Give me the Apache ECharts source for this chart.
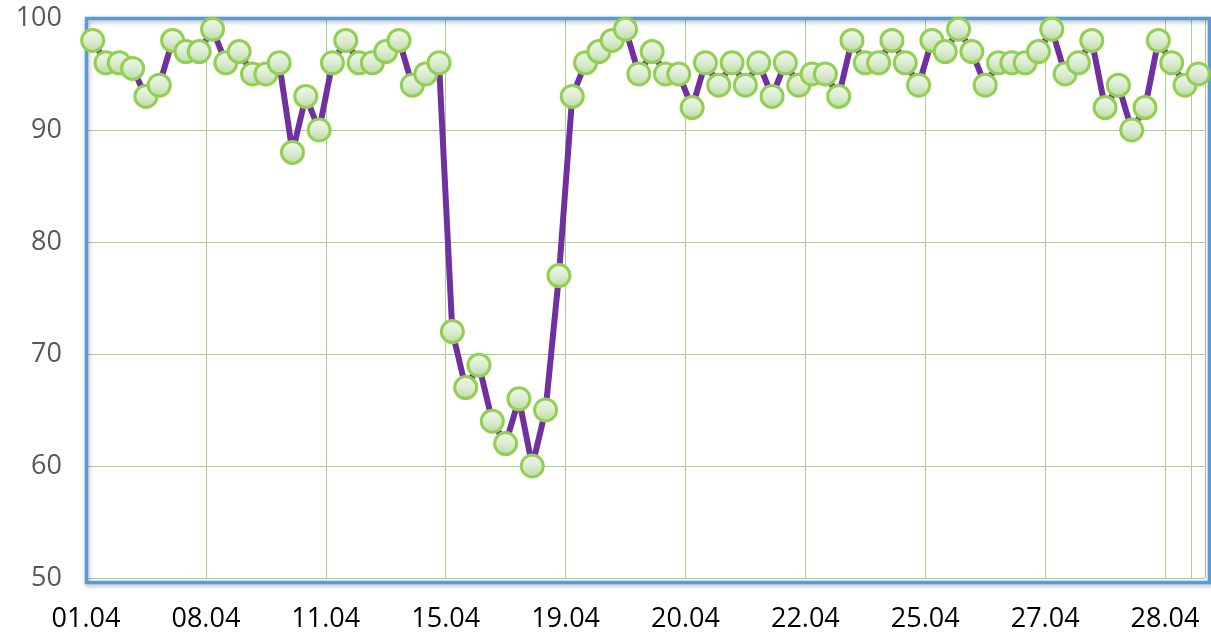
<!DOCTYPE html>
<html>
<head>
<meta charset="utf-8">
<script src="https://cdn.jsdelivr.net/npm/echarts@6/dist/echarts.min.js"></script>
<style>
  html, body { margin: 0; padding: 0; background: #fff; }
  #chart { width: 1211px; height: 635px; }
</style>
</head>
<body>
<div id="chart"></div>
<script>
// tick labels shown every 9 points, at the start of each block
let xLabels = ['01.04', '08.04', '11.04', '15.04', '19.04', '20.04', '22.04', '25.04', '27.04', '28.04'];

let values = [
    98, 96, 96, 95.5, 93, 94, 98, 97, 97, 99,
    96, 97, 95, 95, 96, 88, 93, 90, 96, 98,
    96, 96, 97, 98, 94, 95, 96, 72, 67, 69,
    64, 62, 66, 60, 65, 77, 93, 96, 97, 98,
    99, 95, 97, 95, 95, 92, 96, 94, 96, 94,
    96, 93, 96, 94, 95, 95, 93, 98, 96, 96,
    98, 96, 94, 98, 97, 99, 97, 94, 96, 96,
    96, 97, 99, 95, 96, 98, 92, 94, 90, 92,
    98, 96, 94, 95
];

let categories = values.map(function (v, i) { return i; });

let gridBox = { left: 86, top: 18, width: 1119, height: 560 };

let option = {
    backgroundColor: '#fff',
    animation: false,
    grid: {
        left: gridBox.left,
        top: gridBox.top,
        width: gridBox.width,
        height: gridBox.height
    },
    // plot frame, drawn over the grid lines but under the series
    graphic: [{
        type: 'rect',
        left: gridBox.left - 2,
        top: gridBox.top - 2,
        z: 1,
        shape: { width: gridBox.width + 4, height: gridBox.height + 4 },
        style: {
            fill: null,
            stroke: '#5b9bd5',
            lineWidth: 3.5,
            shadowColor: 'rgba(0,0,0,0.3)',
            shadowBlur: 4,
            shadowOffsetY: 2,
            shadowOffsetX: 1
        }
    }],
    xAxis: {
        type: 'category',
        data: categories,
        boundaryGap: true,
        axisLine: { show: false },
        axisTick: { show: false },
        axisLabel: {
            interval: 0,
            margin: 28,
            color: '#000',
            fontFamily: 'Open Sans',
            fontSize: 27,
            padding: [0, 13.3, 0, 0],
            formatter: function (v, i) {
                return i % 9 === 0 ? xLabels[i / 9] : '';
            }
        },
        splitLine: {
            show: true,
            interval: 8,
            lineStyle: { color: '#a9d18e', width: 1 }
        }
    },
    yAxis: {
        type: 'value',
        min: 50,
        max: 100,
        interval: 10,
        axisLine: { show: false },
        axisTick: { show: false },
        axisLabel: {
            margin: 24,
            color: '#595959',
            fontFamily: 'Open Sans',
            fontSize: 27
        },
        splitLine: {
            lineStyle: { color: '#a9d18e', width: 1 }
        }
    },
    series: [{
        type: 'line',
        data: values,
        symbol: 'circle',
        symbolSize: 22,
        clip: false,
        lineStyle: { color: '#7030a0', width: 6 },
        itemStyle: {
            color: new echarts.graphic.LinearGradient(0, 0, 0, 1, [
                { offset: 0, color: '#f2f8ee' },
                { offset: 0.5, color: '#dcecd2' },
                { offset: 1, color: '#b9d8a6' }
            ]),
            borderColor: '#92d050',
            borderWidth: 3
        },
        z: 3
    }]
};

let chart = echarts.init(document.getElementById('chart'));
chart.setOption(option);
</script>
</body>
</html>
